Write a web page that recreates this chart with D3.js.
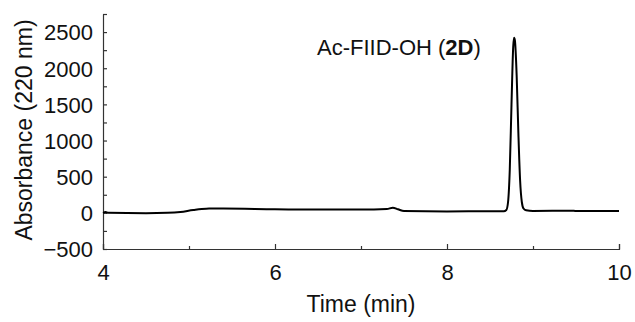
<!DOCTYPE html>
<html>
<head>
<meta charset="utf-8">
<script src="https://cdn.jsdelivr.net/npm/d3@7"></script>
<style>
  body { margin: 0; background: #fff; }
  svg { display: block; font-family: "Liberation Sans", Arial, sans-serif; }
</style>
</head>
<body>
<svg width="635" height="322"></svg>
<script>
// chromatogram (time in min, absorbance at 220 nm)
const times = [4.0, 4.03, 4.06, 4.5, 4.75, 4.9, 5.05, 5.2, 5.4, 6.0, 6.5, 7.0, 7.3, 7.37, 7.43, 7.5, 8.0, 8.5, 8.66,
  8.69, 8.71, 8.73, 8.75, 8.77, 8.78, 8.79, 8.81, 8.83, 8.85, 8.87, 8.89, 8.92, 9.0, 9.45, 9.5, 10.0];
const absorbance = [0, 10, 0, -5, 0, 12, 40, 58, 60, 50, 45, 45, 52, 72, 50, 25, 20, 22, 22,
  40, 150, 600, 1500, 2300, 2420, 2380, 1900, 1100, 450, 150, 60, 35, 25, 30, 25, 25];

const xTicks = [4, 6, 8, 10];
const xMinor = [5, 7, 9];
const yTicks = [-500, 0, 500, 1000, 1500, 2000, 2500];
const yMinor = [-250, 250, 750, 1250, 1750, 2250, 2750];

const annotation = "Ac-FIID-OH (";
const annotationBold = "2D";

const svg = d3.select("svg");
const margin = {left: 103, right: 16, top: 14, bottom: 73};
const width = 635, height = 322;

const x = d3.scaleLinear().domain([4, 10]).range([margin.left, width - margin.right]);
const y = d3.scaleLinear().domain([-500, 2750]).range([height - margin.bottom, margin.top]);

const ink = "#111";

// axes (ticks pointing inwards)
const xAxis = svg.append("g").attr("transform", `translate(0,${y(-500)})`)
  .call(d3.axisBottom(x).tickValues(xTicks).tickSize(-5).tickPadding(12).tickFormat(d3.format("d")));
svg.append("g").attr("transform", `translate(0,${y(-500)})`)
  .call(d3.axisBottom(x).tickValues(xMinor).tickSize(-3).tickFormat(""))
  .select(".domain").remove();

const yAxis = svg.append("g").attr("transform", `translate(${x(4)},0)`)
  .call(d3.axisLeft(y).tickValues(yTicks).tickSize(-4).tickPadding(10).tickSizeOuter(0).tickFormat(d3.format("d")));
svg.append("g").attr("transform", `translate(${x(4)},0)`)
  .call(d3.axisLeft(y).tickValues(yMinor).tickSize(-4).tickFormat(""))
  .select(".domain").remove();

svg.selectAll(".domain, .tick line").attr("stroke", "#333").attr("stroke-width", 1.2);
svg.selectAll(".tick text").attr("fill", ink).attr("font-size", 22)
  .attr("font-family", "Liberation Sans, Arial, sans-serif");
xAxis.selectAll(".tick text").attr("dy", "0.85em");
yAxis.selectAll(".tick text").attr("dy", "0.36em");

// trace
const line = d3.line()
  .x((d, i) => x(times[i]))
  .y(d => y(d))
  .curve(d3.curveMonotoneX);

svg.append("path")
  .datum(absorbance)
  .attr("d", line)
  .attr("fill", "none")
  .attr("stroke", "#000")
  .attr("stroke-width", 2)
  .attr("stroke-linejoin", "round");

// axis titles
svg.append("text")
  .attr("x", (x(4) + x(10)) / 2)
  .attr("y", 312)
  .attr("text-anchor", "middle")
  .attr("font-size", 23)
  .attr("fill", ink)
  .text("Time (min)");

svg.append("text")
  .attr("transform", `translate(32,130) rotate(-90)`)
  .attr("text-anchor", "middle")
  .attr("font-size", 23)
  .attr("fill", ink)
  .text("Absorbance (220 nm)");

// peak label
const lab = svg.append("text")
  .attr("x", 317)
  .attr("y", 55)
  .attr("font-size", 22)
  .attr("fill", ink);
lab.append("tspan").text(annotation);
lab.append("tspan").attr("font-weight", "bold").text(annotationBold);
lab.append("tspan").text(")");
</script>
</body>
</html>
